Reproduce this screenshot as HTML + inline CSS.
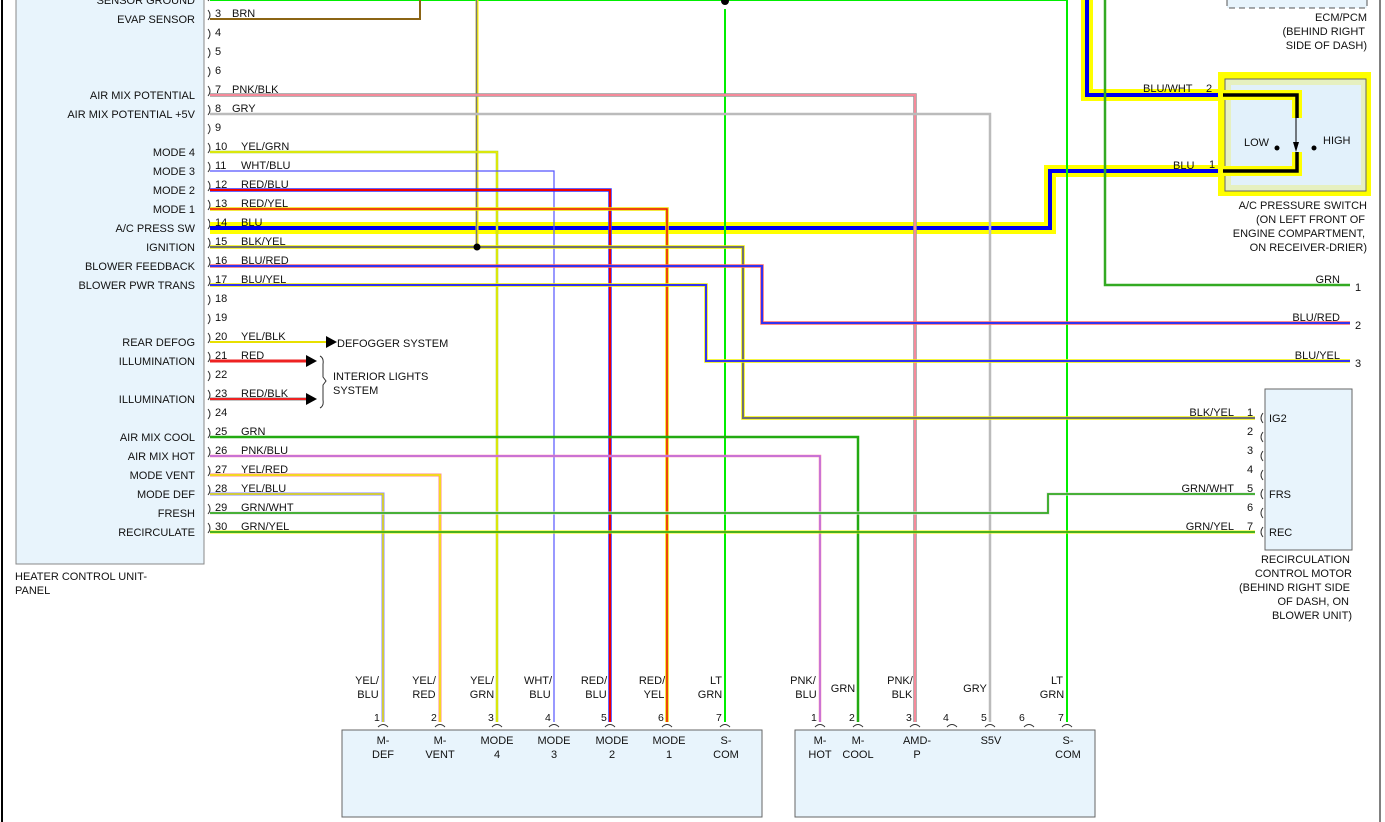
<!DOCTYPE html>
<html><head><meta charset="utf-8"><style>
body{margin:0;background:#fff;}
svg{display:block;font-family:"Liberation Sans",Arial,sans-serif;font-size:11px;}
text{fill:#111;}
</style></head><body>
<svg width="1385" height="822" viewBox="0 0 1385 822" xmlns="http://www.w3.org/2000/svg">
<rect width="1385" height="822" fill="#fff"/>
<line x1="2" y1="0" x2="2" y2="822" stroke="#000" stroke-width="2"/>
<line x1="1380" y1="0" x2="1380" y2="822" stroke="#000" stroke-width="1"/>

<!-- Heater control unit -->
<rect x="16" y="-5" width="188" height="569" fill="#e8f4fc" stroke="#888" stroke-width="1"/>
<text x="15" y="580">HEATER CONTROL UNIT-</text>
<text x="15" y="594">PANEL</text>
<g text-anchor="end">
<text x="195" y="4">SENSOR GROUND</text>
<text x="195" y="23">EVAP SENSOR</text>
<text x="195" y="99">AIR MIX POTENTIAL</text>
<text x="195" y="118">AIR MIX POTENTIAL +5V</text>
<text x="195" y="156">MODE 4</text>
<text x="195" y="175">MODE 3</text>
<text x="195" y="194">MODE 2</text>
<text x="195" y="213">MODE 1</text>
<text x="195" y="232">A/C PRESS SW</text>
<text x="195" y="251">IGNITION</text>
<text x="195" y="270">BLOWER FEEDBACK</text>
<text x="195" y="289">BLOWER PWR TRANS</text>
<text x="195" y="346">REAR DEFOG</text>
<text x="195" y="365">ILLUMINATION</text>
<text x="195" y="403">ILLUMINATION</text>
<text x="195" y="441">AIR MIX COOL</text>
<text x="195" y="460">AIR MIX HOT</text>
<text x="195" y="479">MODE VENT</text>
<text x="195" y="498">MODE DEF</text>
<text x="195" y="517">FRESH</text>
<text x="195" y="536">RECIRCULATE</text>
</g>
<!-- pin brackets -->
<g fill="none" stroke="#333" stroke-width="1">
<path d="M208,-9 q4,5 0,10"/><path d="M208,10 q4,5 0,10"/><path d="M208,29 q4,5 0,10"/><path d="M208,48 q4,5 0,10"/><path d="M208,67 q4,5 0,10"/><path d="M208,86 q4,5 0,10"/><path d="M208,105 q4,5 0,10"/><path d="M208,124 q4,5 0,10"/><path d="M208,143 q4,5 0,10"/><path d="M208,162 q4,5 0,10"/><path d="M208,181 q4,5 0,10"/><path d="M208,200 q4,5 0,10"/><path d="M208,219 q4,5 0,10"/><path d="M208,238 q4,5 0,10"/><path d="M208,257 q4,5 0,10"/><path d="M208,276 q4,5 0,10"/><path d="M208,295 q4,5 0,10"/><path d="M208,314 q4,5 0,10"/><path d="M208,333 q4,5 0,10"/><path d="M208,352 q4,5 0,10"/><path d="M208,371 q4,5 0,10"/><path d="M208,390 q4,5 0,10"/><path d="M208,409 q4,5 0,10"/><path d="M208,428 q4,5 0,10"/><path d="M208,447 q4,5 0,10"/><path d="M208,466 q4,5 0,10"/><path d="M208,485 q4,5 0,10"/><path d="M208,504 q4,5 0,10"/><path d="M208,523 q4,5 0,10"/>
</g>
<g>
<text x="215" y="17">3</text><text x="232" y="17">BRN</text>
<text x="215" y="36">4</text><text x="215" y="55">5</text><text x="215" y="74">6</text>
<text x="215" y="93">7</text><text x="232" y="93">PNK/BLK</text>
<text x="215" y="112">8</text><text x="232" y="112">GRY</text>
<text x="215" y="131">9</text>
<text x="215" y="150">10</text><text x="241" y="150">YEL/GRN</text>
<text x="215" y="169">11</text><text x="241" y="169">WHT/BLU</text>
<text x="215" y="188">12</text><text x="241" y="188">RED/BLU</text>
<text x="215" y="207">13</text><text x="241" y="207">RED/YEL</text>
<text x="215" y="245">15</text><text x="241" y="245">BLK/YEL</text>
<text x="215" y="264">16</text><text x="241" y="264">BLU/RED</text>
<text x="215" y="283">17</text><text x="241" y="283">BLU/YEL</text>
<text x="215" y="302">18</text><text x="215" y="321">19</text>
<text x="215" y="340">20</text><text x="241" y="340">YEL/BLK</text>
<text x="215" y="359">21</text><text x="241" y="359">RED</text>
<text x="215" y="378">22</text>
<text x="215" y="397">23</text><text x="241" y="397">RED/BLK</text>
<text x="215" y="416">24</text>
<text x="215" y="435">25</text><text x="241" y="435">GRN</text>
<text x="215" y="454">26</text><text x="241" y="454">PNK/BLU</text>
<text x="215" y="473">27</text><text x="241" y="473">YEL/RED</text>
<text x="215" y="492">28</text><text x="241" y="492">YEL/BLU</text>
<text x="215" y="511">29</text><text x="241" y="511">GRN/WHT</text>
<text x="215" y="530">30</text><text x="241" y="530">GRN/YEL</text>
</g>

<!-- wires -->
<g fill="none" stroke-linejoin="miter">
<polyline points="210,228 1050,228 1050,171 1218,171" stroke="#ffff00" stroke-width="12"/>
<polyline points="1087,-5 1087,95 1218,95" stroke="#ffff00" stroke-width="12"/>
<polyline points="210,228 1050,228 1050,171 1218,171" stroke="#0000ee" stroke-width="4"/>
<polyline points="1087,-5 1087,95 1218,95" stroke="#0000ee" stroke-width="4"/>

<polyline points="210,0 1067,0 1067,722" stroke="#00ee00" stroke-width="2"/>
<line x1="725" y1="9" x2="725" y2="722" stroke="#00ee00" stroke-width="2"/>
<polyline points="210,19 420,19 420,0" stroke="#8b6414" stroke-width="2"/>
<line x1="477" y1="0" x2="477" y2="247" stroke="#fff200" stroke-width="3"/>
<line x1="476.5" y1="0" x2="476.5" y2="247" stroke="#777" stroke-width="1.5"/>
<polyline points="210,95 915,95 915,722" stroke="#999" stroke-width="3.5"/>
<polyline points="210,95 915,95 915,722" stroke="#f58a9a" stroke-width="2"/>
<polyline points="210,114 990,114 990,722" stroke="#bbb" stroke-width="2.5"/>
<polyline points="210,152 497,152 497,722" stroke="#99cc33" stroke-width="2.5"/>
<polyline points="210,152 497,152 497,722" stroke="#f0f000" stroke-width="1.5"/>
<polyline points="210,171 554,171 554,722" stroke="#5555ff" stroke-width="1.2"/>
<polyline points="210,190 610,190 610,722" stroke="#3333ff" stroke-width="3.5"/>
<polyline points="210,190 610,190 610,722" stroke="#ee0000" stroke-width="2"/>
<polyline points="210,209 667,209 667,722" stroke="#f0e000" stroke-width="3.5"/>
<polyline points="210,209 667,209 667,722" stroke="#ee1111" stroke-width="1.5"/>
<polyline points="210,247 743,247 743,418 1255,418" stroke="#f0f000" stroke-width="3.5"/>
<polyline points="210,247 743,247 743,418 1255,418" stroke="#707070" stroke-width="2"/>
<polyline points="1105,-5 1105,285 1350,285" stroke="#33aa22" stroke-width="2.5"/>
<polyline points="210,266 762,266 762,323 1350,323" stroke="#ff6666" stroke-width="3.5"/>
<polyline points="210,266 762,266 762,323 1350,323" stroke="#3333ee" stroke-width="2"/>
<polyline points="210,285 706,285 706,361 1350,361" stroke="#f0f000" stroke-width="3.5"/>
<polyline points="210,285 706,285 706,361 1350,361" stroke="#3333ee" stroke-width="2"/>
<line x1="210" y1="342" x2="326" y2="342" stroke="#e8e000" stroke-width="2"/>
<line x1="210" y1="361" x2="306" y2="361" stroke="#ee2222" stroke-width="3"/>
<line x1="210" y1="399" x2="306" y2="399" stroke="#888" stroke-width="3"/>
<line x1="210" y1="399" x2="306" y2="399" stroke="#ee2222" stroke-width="2"/>
<polyline points="210,437 858,437 858,722" stroke="#22aa11" stroke-width="2.5"/>
<polyline points="210,456 820,456 820,722" stroke="#ff88aa" stroke-width="2.5"/>
<polyline points="210,456 820,456 820,722" stroke="#aa66ee" stroke-width="1.2"/>
<polyline points="210,475 440,475 440,722" stroke="#ff8888" stroke-width="3"/>
<polyline points="210,475 440,475 440,722" stroke="#f0f000" stroke-width="1.5"/>
<polyline points="210,494 383,494 383,722" stroke="#8888ff" stroke-width="3"/>
<polyline points="210,494 383,494 383,722" stroke="#e8e000" stroke-width="1.5"/>
<polyline points="210,513 1048,513 1048,494 1255,494" stroke="#dddddd" stroke-width="3"/>
<polyline points="210,513 1048,513 1048,494 1255,494" stroke="#33aa22" stroke-width="1.8"/>
<polyline points="210,532 1255,532" stroke="#f0f000" stroke-width="3"/>
<polyline points="210,532 1255,532" stroke="#33aa22" stroke-width="1.8"/>
</g>
<text x="215" y="226">14</text><text x="241" y="226">BLU</text>
<circle cx="725" cy="1" r="4" fill="#000"/>
<circle cx="477" cy="247" r="3.5" fill="#000"/>
<polygon points="326,336 337,342 326,348" fill="#000"/>
<polygon points="306,355 317,361 306,367" fill="#000"/>
<polygon points="306,393 317,399 306,405" fill="#000"/>
<path d="M320,356 q4,2 3,8 l0,13 l3,4 l-3,4 l0,15 q1,6 -3,8" fill="none" stroke="#333" stroke-width="1"/>
<text x="337" y="347">DEFOGGER SYSTEM</text>
<text x="333" y="380">INTERIOR LIGHTS</text>
<text x="333" y="394">SYSTEM</text>

<!-- ECM -->
<rect x="1227" y="-10" width="140" height="18" fill="#e8f4fc" stroke="#555" stroke-dasharray="6,4"/>
<g text-anchor="end">
<text x="1367" y="21">ECM/PCM</text>
<text x="1365" y="35">(BEHIND RIGHT</text>
<text x="1367" y="49">SIDE OF DASH)</text>
</g>

<!-- AC pressure switch -->
<rect x="1218" y="72" width="153" height="124" fill="#ffff00"/>
<rect x="1225" y="79" width="141" height="112" fill="#e6f0c0" stroke="#666"/>
<rect x="1231" y="85" width="130" height="100" fill="#e2f1fb"/>
<polyline points="1223,95 1297,95 1297,118" fill="none" stroke="#ffff00" stroke-width="10"/>
<polyline points="1223,171 1297,171 1297,152" fill="none" stroke="#ffff00" stroke-width="10"/>
<polyline points="1223,95 1297,95 1297,118" fill="none" stroke="#000" stroke-width="3.5"/>
<polyline points="1223,171 1297,171 1297,152" fill="none" stroke="#000" stroke-width="3.5"/>
<line x1="1296" y1="118" x2="1296" y2="146" stroke="#000" stroke-width="1"/>
<polygon points="1293,142 1299,142 1296,152" fill="#000"/>
<circle cx="1277" cy="148" r="2.5" fill="#000"/>
<circle cx="1314" cy="148" r="2.5" fill="#000"/>
<text x="1244" y="146">LOW</text>
<text x="1323" y="144">HIGH</text>
<text x="1143" y="92">BLU/WHT</text><text x="1206" y="92">2</text>
<text x="1173" y="169">BLU</text><text x="1209" y="168">1</text>
<g text-anchor="end">
<text x="1367" y="209">A/C PRESSURE SWITCH</text>
<text x="1365" y="223">(ON LEFT FRONT OF</text>
<text x="1365" y="237">ENGINE COMPARTMENT,</text>
<text x="1367" y="251">ON RECEIVER-DRIER)</text>
<text x="1340" y="283">GRN</text>
<text x="1340" y="321">BLU/RED</text>
<text x="1340" y="359">BLU/YEL</text>
</g>
<text x="1355" y="291">1</text>
<text x="1355" y="329">2</text>
<text x="1355" y="367">3</text>

<!-- Recirculation motor -->
<rect x="1265" y="389" width="87" height="161" fill="#e8f4fc" stroke="#666"/>
<g fill="none" stroke="#333"><path d="M1263,413 q-4,5 0,10"/><path d="M1263,432 q-4,5 0,10"/><path d="M1263,451 q-4,5 0,10"/><path d="M1263,470 q-4,5 0,10"/><path d="M1263,489 q-4,5 0,10"/><path d="M1263,508 q-4,5 0,10"/><path d="M1263,527 q-4,5 0,10"/></g>
<text x="1247" y="416">1</text><text x="1247" y="435">2</text><text x="1247" y="454">3</text><text x="1247" y="473">4</text><text x="1247" y="492">5</text><text x="1247" y="511">6</text><text x="1247" y="530">7</text>
<text x="1269" y="422">IG2</text><text x="1269" y="498">FRS</text><text x="1269" y="536">REC</text>
<g text-anchor="end">
<text x="1234" y="416">BLK/YEL</text>
<text x="1234" y="492">GRN/WHT</text>
<text x="1234" y="530">GRN/YEL</text>
<text x="1350" y="563">RECIRCULATION</text>
<text x="1352" y="577">CONTROL MOTOR</text>
<text x="1350" y="591">(BEHIND RIGHT SIDE</text>
<text x="1349" y="605">OF DASH, ON</text>
<text x="1352" y="619">BLOWER UNIT)</text>
</g>

<!-- bottom connectors -->
<rect x="342" y="730" width="420" height="87" fill="#e8f4fc" stroke="#666"/>
<rect x="795" y="730" width="300" height="87" fill="#e8f4fc" stroke="#666"/>
<g fill="none" stroke="#333">
<path d="M378,727 q5,-5 10,0"/><path d="M435,727 q5,-5 10,0"/><path d="M492,727 q5,-5 10,0"/><path d="M549,727 q5,-5 10,0"/><path d="M605,727 q5,-5 10,0"/><path d="M662,727 q5,-5 10,0"/><path d="M720,727 q5,-5 10,0"/>
<path d="M815,727 q5,-5 10,0"/><path d="M853,727 q5,-5 10,0"/><path d="M910,727 q5,-5 10,0"/><path d="M947,727 q5,-5 10,0"/><path d="M985,727 q5,-5 10,0"/><path d="M1024,727 q5,-5 10,0"/><path d="M1062,727 q5,-5 10,0"/>
</g>
<g font-size="10.5">
<text x="374" y="721">1</text><text x="431" y="721">2</text><text x="488" y="721">3</text><text x="545" y="721">4</text><text x="601" y="721">5</text><text x="658" y="721">6</text><text x="716" y="721">7</text>
<text x="811" y="721">1</text><text x="849" y="721">2</text><text x="906" y="721">3</text><text x="943" y="721">4</text><text x="981" y="721">5</text><text x="1019" y="721">6</text><text x="1058" y="721">7</text>
</g>
<g text-anchor="middle">
<text x="367" y="684">YEL/</text><text x="368" y="698">BLU</text>
<text x="424" y="684">YEL/</text><text x="424" y="698">RED</text>
<text x="482" y="684">YEL/</text><text x="482" y="698">GRN</text>
<text x="538" y="684">WHT/</text><text x="540" y="698">BLU</text>
<text x="594" y="684">RED/</text><text x="596" y="698">BLU</text>
<text x="652" y="684">RED/</text><text x="654" y="698">YEL</text>
<text x="716" y="684">LT</text><text x="710" y="698">GRN</text>
<text x="803" y="684">PNK/</text><text x="806" y="698">BLU</text>
<text x="843" y="692">GRN</text>
<text x="900" y="684">PNK/</text><text x="902" y="698">BLK</text>
<text x="975" y="692">GRY</text>
<text x="1057" y="684">LT</text><text x="1052" y="698">GRN</text>
<text x="383" y="744">M-</text><text x="383" y="758">DEF</text>
<text x="440" y="744">M-</text><text x="440" y="758">VENT</text>
<text x="497" y="744">MODE</text><text x="497" y="758">4</text>
<text x="554" y="744">MODE</text><text x="554" y="758">3</text>
<text x="612" y="744">MODE</text><text x="612" y="758">2</text>
<text x="669" y="744">MODE</text><text x="669" y="758">1</text>
<text x="726" y="744">S-</text><text x="726" y="758">COM</text>
<text x="820" y="744">M-</text><text x="820" y="758">HOT</text>
<text x="858" y="744">M-</text><text x="858" y="758">COOL</text>
<text x="917" y="744">AMD-</text><text x="917" y="758">P</text>
<text x="991" y="744">S5V</text>
<text x="1068" y="744">S-</text><text x="1068" y="758">COM</text>
</g>
</svg>
</body></html>
